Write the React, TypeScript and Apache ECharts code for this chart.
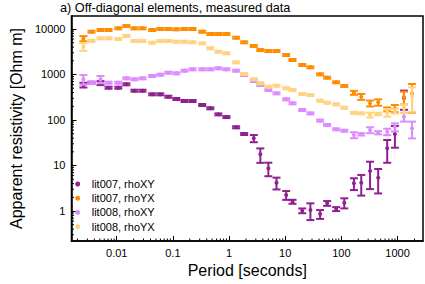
import React, { useEffect, useRef } from 'react';
import * as echarts from 'echarts';

const FONT = '"Liberation Sans", Arial, Helvetica, sans-serif';

const periods = [0.00255, 0.00356, 0.00515, 0.00716, 0.01066, 0.01486, 0.0207, 0.0288, 0.0428, 0.0597,
  0.083, 0.1153, 0.161, 0.224, 0.333, 0.464, 0.645, 0.898, 1.337, 1.858,
  2.76, 3.61, 5.01, 7.0, 10.4, 13.5, 20.1, 28.1, 41.8, 55.8,
  80.7, 112.7, 167.5, 226, 324, 452, 655, 898, 1300, 1815];

const lit007XY = [588, 661, 650, 513, 513, 610, 441, 441, 367, 367,
  325, 290, 262, 262, 214, 181, 133, 116, 69.2, 49.2,
  39.6, 17.6, 8.67, 4.19, 2.25, 1.6, 1.016, 1.052, 0.859, 1.476,
  1.106, 1.52, 4.06, 4.19, 7.57, 5.4, 23.9, 49.2, 305, null];
const lit007YX = [6180, 8730, 9500, 9500, 10350, 11630, 10350, 10350, 9500, 10000,
  10000, 9850, 10000, 10000, 8730, 7760, 7760, 7760, 6440, 5100,
  4230, 3450, 3280, 3280, 2680, 2085, 1620, 1440, 1010, 851,
  675, 558, 398, 325, 233, 245, 172, 181, 320, 382];
const lit008XY = [785, 661, 785, 661, 661, 824, 785, 824, 927, 991,
  1097, 1063, 1213, 1300, 1300, 1300, 1368, 1300, 1213, 975,
  719, 588, 456, 386, 285, 233, 166, 140, 97, 78,
  62.5, 58.2, 46.8, 48.5, 60.3, 52.6, 55.4, 70.2, 118, 65.8];
const lit008YX = [4080, 5450, 6250, 6250, 6030, 7020, 5450, 5450, 5000, 5450,
  5450, 5260, 5260, 5100, 4850, 3770, 3170, 2920, 1850, 1026,
  785, 641, 540, 567, 498, 456, 372, 354, 266, 240,
  221, 186, 144, 140, 129, 136, 146, 158, 181, 337];

// relative errors (delta rho / rho)
const err007XY = [0.12, 0.05, 0.1, 0.05, 0.05, 0.05, 0.05, 0.05, 0.05, 0.05,
  0.05, 0.05, 0.05, 0.05, 0.05, 0.05, 0.05, 0.05, 0.05, 0.05,
  0.18, 0.35, 0.33, 0.29, 0.22, 0.1, 0.12, 0.4, 0.22, 0.12,
  0.1, 0.25, 0.29, 0.48, 0.6, 0.55, 0.52, 0.5, 0.45, 0];
const err007YX = [0.13, 0.05, 0.05, 0.05, 0.05, 0.05, 0.05, 0.05, 0.05, 0.05,
  0.05, 0.05, 0.05, 0.05, 0.05, 0.05, 0.05, 0.05, 0.05, 0.05,
  0.05, 0.05, 0.05, 0.05, 0.05, 0.05, 0.05, 0.05, 0.05, 0.05,
  0.05, 0.05, 0.1, 0.15, 0.15, 0.16, 0.1, 0.18, 0.31, 0.62];
const err008XY = [0.24, 0.06, 0.18, 0.05, 0.05, 0.05, 0.05, 0.05, 0.05, 0.05,
  0.05, 0.05, 0.05, 0.05, 0.05, 0.05, 0.05, 0.05, 0.05, 0.05,
  0.05, 0.05, 0.05, 0.05, 0.05, 0.05, 0.05, 0.05, 0.05, 0.05,
  0.05, 0.05, 0.15, 0.06, 0.15, 0.08, 0.16, 0.2, 0.22, 0.4];
const err008YX = [0.19, 0.05, 0.05, 0.05, 0.05, 0.05, 0.05, 0.05, 0.05, 0.05,
  0.05, 0.05, 0.05, 0.05, 0.05, 0.05, 0.05, 0.05, 0.05, 0.05,
  0.05, 0.05, 0.05, 0.05, 0.05, 0.05, 0.05, 0.05, 0.05, 0.05,
  0.05, 0.05, 0.05, 0.05, 0.12, 0.06, 0.19, 0.12, 0.22, 0.55];

const seriesNames = ['lit007, rhoXY', 'lit007, rhoYX', 'lit008, rhoXY', 'lit008, rhoYX'];
const seriesColors = ['#8e2190', '#ff8c00', '#dc8cff', '#ffd37f'];

const xMajor = [0.01, 0.1, 1, 10, 100, 1000];
const yMajor = [1, 10, 100, 1000, 10000];
const minorSteps = [2, 3, 4, 5, 6, 7, 8, 9];
const xDecades = [0.001, 0.01, 0.1, 1, 10, 100, 1000];
const yDecades = [0.1, 1, 10, 100, 1000];

const X_MIN = 0.001566;
const X_MAX = 2841;
const Y_MIN = 0.2191;
const Y_MAX = 19307;

function errorSeries(name: string, vals: (number | null)[], errs: number[], color: string) {
  const data: number[][] = [];
  periods.forEach((t, i) => {
    const v = vals[i];
    if (v != null) data.push([t, v, errs[i]]);
  });
  return {
    type: 'custom',
    name,
    coordinateSystem: 'cartesian2d',
    itemStyle: { color },
    encode: { x: 0, y: 1 },
    data,
    renderItem: (params: any, api: any) => {
      const t = api.value(0);
      const v = api.value(1);
      const e = api.value(2);
      const p = api.coord([t, v]);
      const hi = api.coord([t, v * (1 + e)]);
      const lo = api.coord([t, v * (1 - e)]);
      const hw = 4;
      const style = { stroke: color, lineWidth: 2, fill: 'none' };
      return {
        type: 'group',
        children: [
          { type: 'line', shape: { x1: p[0], y1: hi[1], x2: p[0], y2: lo[1] }, style },
          { type: 'line', shape: { x1: p[0] - hw, y1: hi[1], x2: p[0] + hw, y2: hi[1] }, style },
          { type: 'line', shape: { x1: p[0] - hw, y1: lo[1], x2: p[0] + hw, y2: lo[1] }, style },
          { type: 'circle', shape: { cx: p[0], cy: p[1], r: 2 }, style: { fill: color } },
        ],
      };
    },
  };
}

export default function App() {
  const ref = useRef<HTMLDivElement>(null);
  useEffect(() => {
    document.body.style.margin = '0';
    const chart = echarts.init(ref.current!, null, { renderer: 'svg' });

    const xMinor: number[] = [];
    xDecades.forEach((d) => minorSteps.forEach((s) => {
      const v = d * s;
      if (v > X_MIN && v < X_MAX) xMinor.push(v);
    }));
    const yMinor: number[] = [];
    yDecades.forEach((d) => minorSteps.forEach((s) => {
      const v = d * s;
      if (v > Y_MIN && v < Y_MAX) yMinor.push(v);
    }));

    const axisCommon = {
      type: 'log',
      logBase: 10,
      axisLine: { show: true, lineStyle: { color: '#000', width: 1.5 } },
      axisTick: { show: true, inside: true, length: 5, lineStyle: { color: '#000', width: 1 } },
      splitLine: { show: false },
      minorTick: { show: false },
      nameTextStyle: { fontSize: 16, color: '#000', fontFamily: FONT },
    };

    const option: any = {
      animation: false,
      backgroundColor: '#fff',
      title: {
        text: 'a) Off-diagonal elements, measured data',
        left: 60,
        top: 1,
        padding: 0,
        textStyle: { fontSize: 12.7, fontWeight: 'normal', color: '#000', fontFamily: FONT },
      },
      grid: { left: 60, right: 2, top: 16, bottom: 43, show: true, borderColor: '#000', borderWidth: 1.5, backgroundColor: 'transparent' },
      legend: {
        orient: 'vertical',
        left: 75.2,
        top: 178.5,
        padding: 0,
        itemWidth: 5,
        itemHeight: 5,
        itemGap: 3.2,
        textStyle: { fontSize: 11, color: '#000', fontFamily: FONT, padding: [0, 0, 0, 6.5] },
        data: seriesNames.map((n, i) => ({ name: n, icon: 'circle', itemStyle: { color: seriesColors[i] } })),
      },
      xAxis: {
        ...axisCommon,
        min: X_MIN,
        max: X_MAX,
        name: 'Period [seconds]',
        nameLocation: 'middle',
        nameGap: 21,
        axisLabel: {
          color: '#000', fontSize: 11, fontFamily: FONT, margin: 6,
          showMinLabel: false, showMaxLabel: false,
          formatter: (v: number) => (xMajor.some((m) => Math.abs(m - v) / m < 1e-6) ? String(v) : ''),
        },
      },
      yAxis: {
        ...axisCommon,
        min: Y_MIN,
        max: Y_MAX,
        name: 'Apparent resistivity [Ohm m]',
        nameLocation: 'middle',
        nameGap: 40,
        axisLabel: {
          color: '#000', fontSize: 11, fontFamily: FONT, margin: 6,
          showMinLabel: false, showMaxLabel: false,
          formatter: (v: number) => (yMajor.some((m) => Math.abs(m - v) / m < 1e-6) ? String(v) : ''),
        },
      },
      series: [
        {
          type: 'custom',
          name: 'xMinorTicks',
          silent: true,
          coordinateSystem: 'cartesian2d',
          data: xMinor.map((v) => [v, 1]),
          renderItem: (params: any, api: any) => {
            const cs = params.coordSys;
            const x = api.coord([api.value(0), 1])[0];
            const yb = cs.y + cs.height;
            return { type: 'line', shape: { x1: x, y1: yb, x2: x, y2: yb - 2.5 }, style: { stroke: '#000', lineWidth: 1 } };
          },
        },
        {
          type: 'custom',
          name: 'yMinorTicks',
          silent: true,
          coordinateSystem: 'cartesian2d',
          data: yMinor.map((v) => [0.01, v]),
          renderItem: (params: any, api: any) => {
            const cs = params.coordSys;
            const y = api.coord([0.01, api.value(1)])[1];
            return { type: 'line', shape: { x1: cs.x, y1: y, x2: cs.x + 2.5, y2: y }, style: { stroke: '#000', lineWidth: 1 } };
          },
        },
        errorSeries(seriesNames[0], lit007XY, err007XY, seriesColors[0]),
        errorSeries(seriesNames[1], lit007YX, err007YX, seriesColors[1]),
        errorSeries(seriesNames[2], lit008XY, err008XY, seriesColors[2]),
        errorSeries(seriesNames[3], lit008YX, err008YX, seriesColors[3]),
      ],
    };
    chart.setOption(option);
    return () => chart.dispose();
  }, []);
  return <div ref={ref} style={{ width: 425, height: 284 }} />;
}
